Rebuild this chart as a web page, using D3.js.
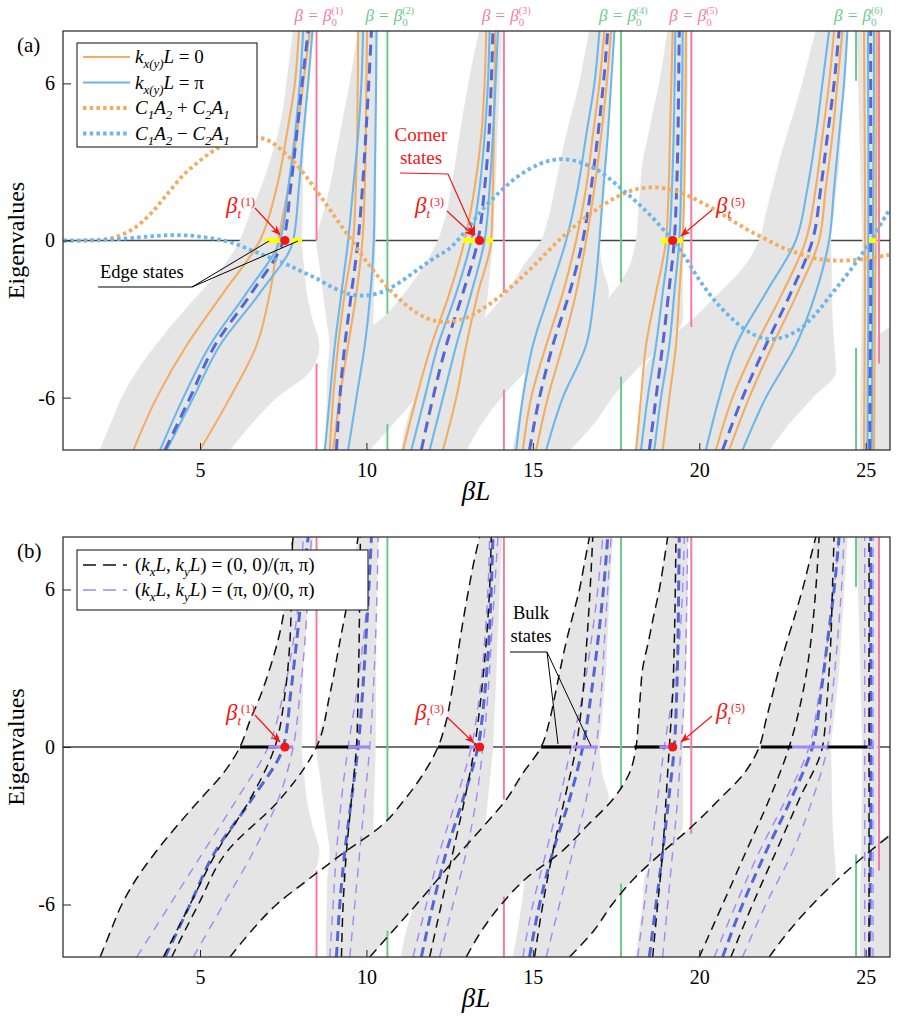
<!DOCTYPE html>
<html>
<head>
<meta charset="utf-8">
<script src="https://cdn.jsdelivr.net/npm/d3@7/dist/d3.min.js"></script>
<style>
  body { margin: 0; background: #fff; }
  svg text { font-family: "Liberation Serif", "Times New Roman", serif; }
</style>
</head>
<body>
<div id="fig"></div>
<script>
// ---------- data (betaL positions) ----------
var levels = [-8,-7,-6,-5,-4,-3,-2,-1,0,1,2,3,4,5,6,7,8];
var lineLevels = [-8,-6,-4,-2,0,2,4,6,8];
var xTicks = [5, 10, 15, 20, 25];
var yTicks = [-6, 0, 6];

// gray bulk spectrum, left / right edge at each level
var zone1L = [2.0,2.32,2.65,3.1,3.67,4.31,5.0,5.7,6.2,6.5,6.83,7.1,7.33,7.5,7.6,7.7,7.8];
var zone1R = [5.9,6.55,7.3,8.3,8.58,8.37,8.2,8.12,8.05,8.07,8.08,8.1,8.15,8.2,8.25,8.33,8.4];
var zone2L = [8.8,8.8,8.82,8.84,9.35,10.45,11.15,11.72,12.15,12.4,12.55,12.68,12.8,12.93,13.07,13.22,13.4];
var zone2R = [10.1,10.8,11.5,12.17,12.83,13.54,13.64,13.72,13.8,13.83,13.87,13.9,13.93,13.97,14.0,14.03,14.07];
var zone3L = [11.05,11.2,11.5,12.17,12.83,13.53,14.2,14.7,15.25,15.5,15.67,15.83,16.0,16.2,16.4,16.55,16.7];
var zone3R = [13.0,13.46,14.05,14.8,15.85,16.63,17.28,17.08,17.0,17.07,17.13,17.2,17.23,17.27,17.3,17.35,17.4];
var zone4L = [14.4,14.55,14.67,14.8,15.85,16.63,17.4,17.9,18.1,18.17,18.23,18.3,18.47,18.63,18.8,18.93,19.05];
var zone4R = [16.1,16.83,17.38,18.05,18.9,19.5,19.5,19.5,19.5,19.53,19.57,19.6,19.62,19.63,19.65,19.65,19.65];
var zone5L = [18.1,18.2,18.3,18.35,18.9,19.8,20.6,21.35,21.8,22.0,22.2,22.4,22.63,22.87,23.1,23.3,23.5];
var zone5R = [22.1,22.7,23.4,24.1,24.05,24.0,23.98,23.97,23.95,24.03,24.12,24.2,24.25,24.3,24.35,24.4,24.45];
var zone6L = [24.85,24.85,24.85,24.85,25.1,26.1];
var zone6R = [27,27,27,27,27,27];
var steep2L = [8.8,8.81,8.83,8.84,8.9,8.8,8.7,8.6,8.5,8.7,8.9,9.05,9.2,9.35,9.5,9.63,9.75];
var steep2R = [10.0,10.02,10.05,10.1,10.15,10.2,10.22,10.25,10.27,10.28,10.28,10.28,10.29,10.3,10.31,10.33,10.35];
var steep7L = [24.85,24.85,24.85,24.86,24.87,24.88,24.89,24.9,24.9,24.88,24.86,24.84,24.82,24.8,24.78,24.76,24.75];
var steep7R = [25.3,25.3,25.31,25.32,25.33,25.34,25.35,25.35,25.35,25.35,25.35,25.36,25.36,25.37,25.37,25.38,25.38];

// slow (0,0)/(pi,pi) branches in panel (b), at "levels"
var slowA = [2.0,2.32,2.65,3.1,3.67,4.31,5.0,5.7,6.2,6.5,6.83,7.1,7.33,7.5,7.6,7.7,7.8];
var slowB = [5.9,6.55,7.3,8.3,9.35,10.45,11.15,11.72,12.15,12.4,12.55,12.68,12.8,12.93,13.07,13.22,13.4];
var slowC = [10.1,10.8,11.5,12.17,12.83,13.53,14.2,14.7,15.25,15.5,15.67,15.83,16.0,16.2,16.4,16.55,16.7];
var slowD = [13.0,13.46,14.05,14.8,15.85,16.63,17.4,17.9,18.1,18.17,18.23,18.3,18.47,18.63,18.8,18.93,19.05];
var slowE = [16.1,16.83,17.38,18.05,18.9,19.8,20.6,21.35,21.8,22.0,22.2,22.4,22.63,22.87,23.1,23.3,23.5];
var slowF = [22.1,22.7,23.4,24.2,25.1,26.1];
var linkB = [4.15,4.95,5.8,7.4,8.5,8.9,9.2,9.5,9.75];

// panel (a) branches at "lineLevels": orange k=0, blue k=pi, dashed centre
var orange1 = [[3.0,3.7,4.6,5.7,6.8,7.3,7.6,7.85,7.97],[5.0,5.9,6.7,7.1,7.35,7.65,7.9,8.1,8.3],
  [8.9,9.0,9.15,9.35,9.6,9.68,9.72,9.74,9.75],[9.0,9.2,9.45,9.7,9.88,9.95,9.98,10.0,10.02],
  [11.1,11.5,11.95,12.5,12.95,13.25,13.45,13.55,13.6],[12.3,12.7,13.0,13.35,13.75,13.8,13.83,13.85,13.87],
  [14.7,14.95,15.4,15.9,16.3,16.6,16.8,17.0,17.15],[15.1,15.45,15.9,16.3,16.6,16.85,17.05,17.22,17.35],
  [18.1,18.25,18.4,18.7,19.0,19.08,19.12,19.16,19.2],[18.9,19.1,19.3,19.4,19.5,19.55,19.57,19.59,19.6],
  [20.5,21.0,21.7,22.5,23.2,23.5,23.7,23.9,24.05],[20.9,21.5,22.2,22.95,23.6,23.8,24.0,24.15,24.3],
  [24.95,24.96,24.97,24.98,24.98,24.98,24.97,24.96,24.95],[25.25,25.26,25.27,25.28,25.3,25.31,25.32,25.33,25.33]];
var blue1 = [[3.8,4.5,5.3,6.4,7.4,7.65,7.85,8.0,8.1],[4.0,4.8,5.6,6.8,7.8,7.97,8.1,8.25,8.38],
  [8.75,8.9,9.05,9.25,9.45,9.6,9.75,9.85,9.9],[9.45,9.7,9.95,10.12,10.22,10.25,10.27,10.29,10.3],
  [11.35,11.75,12.15,12.7,13.15,13.4,13.55,13.65,13.7],[11.9,12.3,12.7,13.15,13.55,13.7,13.8,13.88,13.95],
  [14.5,14.7,15.0,15.5,16.0,16.35,16.6,16.85,17.0],[15.4,15.9,16.6,16.85,17.0,17.12,17.25,17.35,17.45],
  [18.25,18.45,18.7,18.9,19.1,19.18,19.23,19.26,19.28],[18.65,18.85,19.1,19.25,19.4,19.45,19.48,19.49,19.5],
  [20.2,20.6,21.1,22.0,22.9,23.25,23.5,23.7,23.9],[21.3,22.0,22.9,23.5,23.9,24.05,24.2,24.35,24.45],
  [25.05,25.06,25.07,25.08,25.08,25.08,25.08,25.07,25.07],[25.18,25.19,25.2,25.21,25.22,25.23,25.24,25.25,25.25]];
var centre = [[3.95,4.7,5.45,6.55,7.5,7.72,7.9,8.07,8.25],[9.1,9.2,9.35,9.55,9.75,9.88,9.98,10.07,10.15],
  [11.65,12.0,12.4,12.9,13.35,13.55,13.68,13.75,13.8],[14.9,15.2,15.6,16.1,16.5,16.75,16.95,17.12,17.25],
  [18.5,18.7,18.9,19.08,19.25,19.32,19.36,19.38,19.4],[20.7,21.3,22.0,22.75,23.4,23.65,23.85,24.05,24.2],
  [25.12,25.13,25.14,25.15,25.15,25.15,25.15,25.15,25.15]];

// panel (b) branches: black (0,0)/(pi,pi), purple (pi,0)/(0,pi)
var black2 = [[3.9,4.7,5.5,6.5,7.25,7.55,7.7,7.75,7.78],[9.25,9.3,9.4,9.55,9.7,9.75,9.78,9.8,9.82],
  [11.9,12.25,12.6,12.95,13.25,13.45,13.6,13.7,13.75],[15.05,15.3,15.6,15.95,16.3,16.5,16.62,16.72,16.8],
  [18.6,18.75,18.9,19.0,19.1,19.2,19.25,19.28,19.3],[20.0,20.7,21.4,22.1,22.7,23.1,23.35,23.5,23.6],
  [20.95,21.6,22.3,23.0,23.7,23.85,23.95,24.0,24.05],[25.1,25.1,25.1,25.1,25.1,25.1,25.1,25.1,25.1]];
var purple2 = [[3.1,4.1,5.1,6.1,7.05,7.5,7.8,8.0,8.1],[4.8,5.7,6.6,7.35,7.8,8.0,8.15,8.25,8.35],
  [8.9,9.0,9.1,9.25,9.45,9.7,9.9,10.05,10.15],[9.5,9.65,9.8,9.95,10.1,10.2,10.27,10.32,10.35],
  [11.4,11.8,12.2,12.7,13.15,13.4,13.55,13.65,13.7],[12.2,12.6,13.0,13.3,13.5,13.65,13.75,13.85,13.95],
  [14.7,15.0,15.4,15.8,16.15,16.5,16.75,16.95,17.1],[15.4,15.8,16.2,16.6,16.9,17.05,17.15,17.25,17.35],
  [18.15,18.35,18.55,18.75,18.95,19.2,19.4,19.5,19.55],[18.9,19.05,19.2,19.35,19.45,19.55,19.6,19.63,19.65],
  [20.45,21.1,21.8,22.6,23.3,23.6,23.85,24.05,24.2],[21.3,22.0,22.8,23.4,23.85,24.0,24.15,24.27,24.35],
  [24.97,24.97,24.97,24.97,24.97,24.97,24.97,24.97,24.97],[25.22,25.22,25.22,25.22,25.22,25.22,25.22,25.22,25.22]];

// C1A2 +/- C2A1 (dotted)
var dotBeta = [0.9,1.5,2,2.5,3,3.5,4,4.5,5,5.5,6,6.5,7,7.5,8,8.5,9,9.5,10,10.5,11,11.5,12,12.5,13,13.5,14,14.5,15,15.5,16,16.5,17,17.5,18,18.5,19,19.5,20,20.5,21,21.5,22,22.5,23,23.5,24,24.5,25,25.7];
var dotPlus = [0,0,0.02,0.15,0.45,1.0,1.75,2.5,3.05,3.5,3.8,3.93,3.85,3.4,2.75,1.9,1.0,0.1,-0.8,-1.6,-2.25,-2.75,-3.05,-3.1,-2.95,-2.6,-2.15,-1.6,-1.0,-0.35,0.27,0.8,1.26,1.65,1.92,2.03,1.98,1.8,1.5,1.15,0.75,0.38,0.05,-0.27,-0.5,-0.69,-0.76,-0.76,-0.7,-0.55];
var dotMinus = [0,0,0.02,0.05,0.1,0.16,0.2,0.2,0.15,0.05,-0.1,-0.35,-0.6,-0.85,-1.15,-1.45,-1.8,-2.05,-2.1,-1.95,-1.6,-1.15,-0.7,-0.3,0.4,1.2,1.85,2.4,2.8,3.05,3.1,2.95,2.65,2.15,1.6,1.0,0.3,-0.5,-1.5,-2.35,-3.0,-3.5,-3.75,-3.7,-3.4,-2.8,-2.0,-1.2,-0.3,1.15];

// vertical beta0 lines with the parts that stay visible
var beta0 = [8.5, 10.63, 14.13, 17.65, 19.76, 24.71, 25.4];
var beta0Kind = ["p","g","p","g","p","g","p"];
var beta0Visible = [[[0,8],[-8,-4.7]], [[-2.8,8],[-8,-7.0]], [[-2.0,8],[-8,-5.7]], [[-1.6,8],[-8,-5.2]], [[-3.3,8]], [[6.1,8],[-8,-4.1]], [[-4.7,8]]];

// zero-energy states
var edgeSeg = [[6.95,7.4],[7.75,8.06],[12.9,13.25],[13.6,13.8],[18.85,19.15],[19.3,19.5],[25.1,25.3]];
var bulkBlack = [[6.2,7.3],[8.5,9.7],[12.15,13.1],[15.25,16.15],[18.05,19.0],[21.85,22.8],[23.85,25.15]];
var bulkPurple = [[7.05,7.8],[9.45,10.1],[13.1,13.5],[16.2,16.95],[18.8,19.15],[22.8,23.85],[25.05,25.25]];
var betaT = [7.55, 13.4, 19.2];

// ---------- drawing ----------
var W = 899, H = 1025, plotL = 63, plotR = 890;
var SERIF = "Liberation Serif, Times New Roman, serif";
var PINK = "#f37ca2", GREEN = "#6cc98c", ORANGE = "#f2ad62", BLUE = "#6db6ea",
    DKBLUE = "#5266d6", PURPLE = "#a287f5", RED = "#f21616", GRAY = "#e5e5e5";

var x = d3.scaleLinear().domain([0.884, 25.73]).range([plotL, plotR]);
var svg = d3.select("#fig").append("svg").attr("width", W).attr("height", H)
  .style("font-family", SERIF);

var defs = svg.append("defs");
defs.append("marker").attr("id", "arrowRed")
  .attr("viewBox", "0 0 10 8").attr("refX", 9.5).attr("refY", 4)
  .attr("markerWidth", 10).attr("markerHeight", 8).attr("markerUnits", "userSpaceOnUse")
  .attr("orient", "auto")
  .append("path").attr("d", "M0,0 L10,4 L0,8 L3,4 Z").attr("fill", RED);

function panel(top, bottom, id) {
  var y = d3.scaleLinear().domain([-8, 8]).range([bottom, top]);
  defs.append("clipPath").attr("id", "clip" + id)
    .append("rect").attr("x", plotL).attr("y", top).attr("width", plotR - plotL).attr("height", bottom - top);
  var g = svg.append("g");
  var plot = g.append("g").attr("clip-path", "url(#clip" + id + ")");

  plot.append("line").attr("x1", plotL).attr("x2", plotR).attr("y1", y(0)).attr("y2", y(0))
    .attr("stroke", "#444").attr("stroke-width", 1.3);

  var area = d3.area().curve(d3.curveMonotoneY)
    .y(function(d) { return y(d[2]); })
    .x0(function(d) { return x(d[0]); })
    .x1(function(d) { return x(d[1]); });
  [[zone1L,zone1R],[zone2L,zone2R],[zone3L,zone3R],[zone4L,zone4R],[zone5L,zone5R],
   [zone6L,zone6R],[steep2L,steep2R],[steep7L,steep7R]].forEach(function(z) {
    var pts = z[0].map(function(v, i) { return [v, z[1][i], levels[i]]; });
    plot.append("path").datum(pts).attr("fill", GRAY).attr("stroke", GRAY).attr("stroke-width", 0.5).attr("d", area);
  });

  beta0.forEach(function(b, i) {
    beta0Visible[i].forEach(function(s) {
      plot.append("line").attr("x1", x(b)).attr("x2", x(b)).attr("y1", y(s[0])).attr("y2", y(s[1]))
        .attr("stroke", beta0Kind[i] == "p" ? PINK : GREEN).attr("stroke-width", 2);
    });
  });
  return {g: g, plot: plot, y: y, top: top, bottom: bottom};
}

function styleAxis(a) {
  a.select(".domain").remove();
  a.attr("font-family", SERIF);
  a.selectAll("text").attr("font-size", 20).attr("fill", "#000").style("font-family", SERIF);
  a.selectAll("line").attr("stroke", "#222");
}

function frame(P) {
  var y = P.y;
  P.g.append("g").attr("transform", "translate(0," + P.bottom + ")")
    .call(d3.axisBottom(x).tickValues(xTicks).tickSize(-7).tickPadding(13).tickFormat(function(d) { return String(d); }))
    .call(styleAxis);
  P.g.append("g").attr("transform", "translate(" + plotL + ",0)")
    .call(d3.axisLeft(y).tickValues(yTicks).tickSize(-8).tickPadding(8).tickFormat(function(d) { return String(d); }))
    .call(styleAxis);
  P.g.append("rect").attr("x", plotL).attr("y", P.top).attr("width", plotR - plotL).attr("height", P.bottom - P.top)
    .attr("fill", "none").attr("stroke", "#333").attr("stroke-width", 1.3);
  P.g.append("text").attr("transform", "translate(24," + ((P.top + P.bottom) / 2) + ") rotate(-90)")
    .attr("text-anchor", "middle").attr("font-size", 24).text("Eigenvalues");
  P.g.append("text").attr("x", 476).attr("y", P.bottom + 50).attr("text-anchor", "middle")
    .attr("font-size", 27).attr("font-style", "italic").text("βL");
}

// beta_t^(n): one text element with sub / sup tspans
function betaLabel(g, xp, yp, n) {
  var t = g.append("text").attr("x", xp).attr("y", yp).attr("fill", RED);
  t.append("tspan").attr("font-size", 23).attr("font-style", "italic").text("β");
  t.append("tspan").attr("font-size", 13).attr("font-style", "italic").attr("dy", 5).text("t");
  t.append("tspan").attr("font-size", 12).attr("dy", -12).text("(" + n + ")");
}

function arrow(g, pts) {
  g.append("path").attr("d", d3.line()(pts)).attr("fill", "none").attr("stroke", RED)
    .attr("stroke-width", 1.2).attr("marker-end", "url(#arrowRed)");
}

function mathText(g, xp, yp, parts, size, fill) {
  var t = g.append("text").attr("x", xp).attr("y", yp).attr("font-size", size).attr("fill", fill || "#000");
  var shift = 0;
  parts.forEach(function(p) {
    var s = t.append("tspan").text(p[0]);
    var target = p[1] == "sub" ? 5 : 0;
    s.attr("dy", target - shift); shift = target;
    if (p[1] == "sub") s.attr("font-size", size * 0.68);
    if (p[1] == "i" || p[1] == "sub") s.attr("font-style", "italic");
  });
  return t;
}

var bandLine = function(y) {
  return d3.line().curve(d3.curveMonotoneY).x(function(d) { return x(d); })
    .y(function(d, i) { return y(lineLevels[i]); });
};

// ================= panel (a) =================
var A = panel(31, 450, "a");
var la = bandLine(A.y);
orange1.forEach(function(c) {
  A.plot.append("path").datum(c).attr("d", la).attr("fill", "none").attr("stroke", ORANGE).attr("stroke-width", 2.1);
});
blue1.forEach(function(c) {
  A.plot.append("path").datum(c).attr("d", la).attr("fill", "none").attr("stroke", BLUE).attr("stroke-width", 2.1);
});
centre.forEach(function(c) {
  A.plot.append("path").datum(c).attr("d", la).attr("fill", "none").attr("stroke", DKBLUE)
    .attr("stroke-width", 3).attr("stroke-dasharray", "11,7");
});
var dotLine = d3.line().curve(d3.curveCatmullRom)
  .x(function(d, i) { return x(dotBeta[i]); }).y(function(d) { return A.y(d); });
A.plot.append("path").datum(dotPlus).attr("d", dotLine).attr("fill", "none").attr("stroke", ORANGE)
  .attr("stroke-width", 3.8).attr("stroke-dasharray", "3.5,3.2");
A.plot.append("path").datum(dotMinus).attr("d", dotLine).attr("fill", "none").attr("stroke", BLUE)
  .attr("stroke-width", 3.8).attr("stroke-dasharray", "3.5,3.2");
edgeSeg.forEach(function(s) {
  A.plot.append("line").attr("x1", x(s[0])).attr("x2", x(s[1])).attr("y1", A.y(0)).attr("y2", A.y(0))
    .attr("stroke", "#ffff00").attr("stroke-width", 5);
});
betaT.forEach(function(b) {
  A.plot.append("circle").attr("cx", x(b)).attr("cy", A.y(0)).attr("r", 4.6).attr("fill", RED);
});
frame(A);

// beta0 labels above panel (a)
beta0.forEach(function(b, i) {
  if (i > 5) return;
  var c = beta0Kind[i] == "p" ? PINK : GREEN, xp = x(b);
  var t = A.g.append("text").attr("x", xp - 22).attr("y", 21).attr("fill", c);
  t.append("tspan").attr("font-size", 17).attr("font-style", "italic").text("β = β");
  t.append("tspan").attr("font-size", 11).attr("dy", 5).text("0");
  t.append("tspan").attr("font-size", 10).attr("dx", -5.5).attr("dy", -12).text("(" + (i + 1) + ")");
});

// legend (a)
var lgA = A.g.append("g");
lgA.append("rect").attr("x", 77).attr("y", 43).attr("width", 180).attr("height", 104)
  .attr("fill", "#fff").attr("stroke", "#222").attr("stroke-width", 1.1);
var legA = [
  {c: ORANGE, d: null, t: [["k","i"],["x(y)","sub"],["L","i"],[" = 0",""]]},
  {c: BLUE, d: null, t: [["k","i"],["x(y)","sub"],["L","i"],[" = π",""]]},
  {c: ORANGE, d: "3.5,3.2", t: [["C","i"],["1","sub"],["A","i"],["2","sub"],[" + ",""],["C","i"],["2","sub"],["A","i"],["1","sub"]]},
  {c: BLUE, d: "3.5,3.2", t: [["C","i"],["1","sub"],["A","i"],["2","sub"],[" − ",""],["C","i"],["2","sub"],["A","i"],["1","sub"]]}
];
legA.forEach(function(e, i) {
  var yy = 57 + i * 25.5;
  lgA.append("line").attr("x1", 83).attr("x2", 130).attr("y1", yy).attr("y2", yy)
    .attr("stroke", e.c).attr("stroke-width", e.d ? 3.8 : 2.2).attr("stroke-dasharray", e.d);
  mathText(lgA, 135, yy + 6, e.t, 19);
});

// annotations (a)
betaLabel(A.g, 226, 213, "1");
betaLabel(A.g, 415, 213, "3");
betaLabel(A.g, 716, 213, "5");
arrow(A.g, [[255, 208], [280, 235]]);
arrow(A.g, [[447, 211], [474, 236]]);
arrow(A.g, [[712, 210], [681, 236]]);
arrow(A.g, [[400, 173], [448, 174], [475, 235]]);
A.g.append("text").attr("x", 421).attr("y", 141).attr("text-anchor", "middle").attr("font-size", 19).attr("fill", RED).text("Corner");
A.g.append("text").attr("x", 421).attr("y", 164).attr("text-anchor", "middle").attr("font-size", 19).attr("fill", RED).text("states");
A.g.append("text").attr("x", 100).attr("y", 278).attr("font-size", 18.5).text("Edge states");
A.g.append("path").attr("d", "M98,287 L192,287 L269,241 M192,287 L298,241").attr("fill", "none")
  .attr("stroke", "#000").attr("stroke-width", 1);
A.g.append("text").attr("x", 17).attr("y", 52).attr("font-size", 21).text("(a)");

// ================= panel (b) =================
var B = panel(537, 957, "b");
var lb = bandLine(B.y);
var slowLine = d3.line().curve(d3.curveMonotoneY)
  .x(function(d) { return x(d); }).y(function(d, i) { return B.y(levels[i]); });
purple2.forEach(function(c) {
  B.plot.append("path").datum(c).attr("d", lb).attr("fill", "none").attr("stroke", PURPLE)
    .attr("stroke-width", 1.4).attr("stroke-dasharray", "9,7");
});
centre.forEach(function(c) {
  B.plot.append("path").datum(c).attr("d", lb).attr("fill", "none").attr("stroke", DKBLUE)
    .attr("stroke-width", 3).attr("stroke-dasharray", "10,6");
});
black2.concat([linkB]).forEach(function(c) {
  B.plot.append("path").datum(c).attr("d", lb).attr("fill", "none").attr("stroke", "#111")
    .attr("stroke-width", 1.5).attr("stroke-dasharray", "9,6");
});
[slowA, slowB, slowC, slowD, slowE, slowF].forEach(function(c) {
  B.plot.append("path").datum(c).attr("d", slowLine).attr("fill", "none").attr("stroke", "#111")
    .attr("stroke-width", 1.5).attr("stroke-dasharray", "10,6");
});
bulkBlack.forEach(function(s) {
  B.plot.append("line").attr("x1", x(s[0])).attr("x2", x(s[1])).attr("y1", B.y(0)).attr("y2", B.y(0))
    .attr("stroke", "#000").attr("stroke-width", 3.2);
});
bulkPurple.forEach(function(s) {
  B.plot.append("line").attr("x1", x(s[0])).attr("x2", x(s[1])).attr("y1", B.y(0)).attr("y2", B.y(0))
    .attr("stroke", PURPLE).attr("stroke-width", 3.2);
});
betaT.forEach(function(b) {
  B.plot.append("circle").attr("cx", x(b)).attr("cy", B.y(0)).attr("r", 4.6).attr("fill", RED);
});
frame(B);

var lgB = B.g.append("g");
lgB.append("rect").attr("x", 77).attr("y", 550).attr("width", 291).attr("height", 60)
  .attr("fill", "#fff").attr("stroke", "#222").attr("stroke-width", 1.1);
var legB = [
  {c: "#111", w: 1.5, t: [["(",""],["k","i"],["x","sub"],["L","i"],[", ",""],["k","i"],["y","sub"],["L","i"],[") = (0, 0)/(π, π)",""]]},
  {c: PURPLE, w: 1.4, t: [["(",""],["k","i"],["x","sub"],["L","i"],[", ",""],["k","i"],["y","sub"],["L","i"],[") = (π, 0)/(0, π)",""]]}
];
legB.forEach(function(e, i) {
  var yy = 565 + i * 25;
  lgB.append("line").attr("x1", 83).attr("x2", 127).attr("y1", yy).attr("y2", yy)
    .attr("stroke", e.c).attr("stroke-width", e.w).attr("stroke-dasharray", "13,7");
  mathText(lgB, 135, yy + 6, e.t, 19);
});

betaLabel(B.g, 226, 720, "1");
betaLabel(B.g, 415, 720, "3");
betaLabel(B.g, 716, 719, "5");
arrow(B.g, [[255, 715], [280, 742]]);
arrow(B.g, [[447, 717], [474, 743]]);
arrow(B.g, [[712, 716], [681, 742]]);
B.g.append("text").attr("x", 531).attr("y", 619).attr("text-anchor", "middle").attr("font-size", 18.5).text("Bulk");
B.g.append("text").attr("x", 531).attr("y", 642).attr("text-anchor", "middle").attr("font-size", 18.5).text("states");
B.g.append("path").attr("d", "M510,652 L547,652 L558,744 M547,652 L591,746").attr("fill", "none")
  .attr("stroke", "#000").attr("stroke-width", 1);
B.g.append("text").attr("x", 17).attr("y", 558).attr("font-size", 21).text("(b)");
</script>
</body>
</html>
